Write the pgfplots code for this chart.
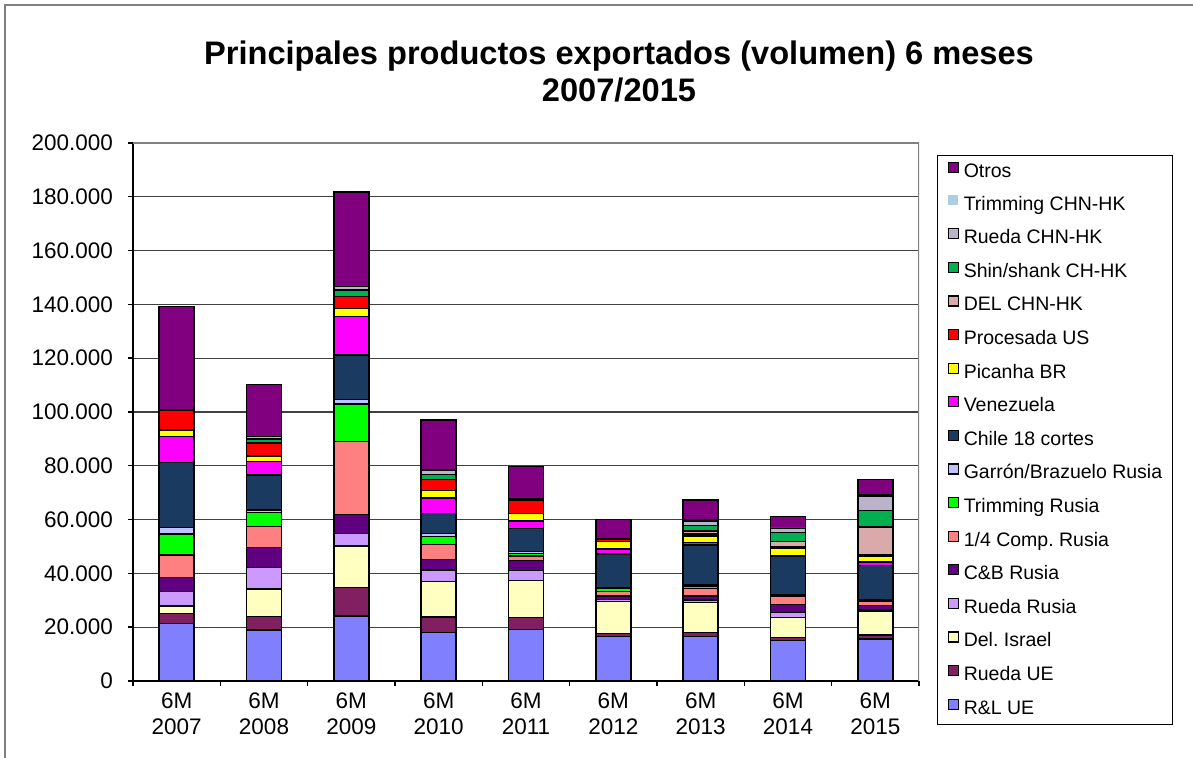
\documentclass[border=0pt]{standalone}
\usepackage{pgfplots}
\pgfplotsset{compat=1.18}
\usepackage{pgfplotstable}
\usepackage{fontspec}
\setmainfont{Liberation Sans}
\frenchspacing

\definecolor{cRLUE}{HTML}{8080FF}
\definecolor{cRuedaUE}{HTML}{802060}
\definecolor{cDelIsrael}{HTML}{FFFFC0}
\definecolor{cRuedaRusia}{HTML}{CC99FF}
\definecolor{cCBRusia}{HTML}{600080}
\definecolor{cCompRusia}{HTML}{FF8080}
\definecolor{cTrimRusia}{HTML}{00FF00}
\definecolor{cGarron}{HTML}{C0C0FF}
\definecolor{cChile}{HTML}{1A3A60}
\definecolor{cVenezuela}{HTML}{FF00FF}
\definecolor{cPicanha}{HTML}{FFFF00}
\definecolor{cProcesada}{HTML}{FF0000}
\definecolor{cDELCHN}{HTML}{DAAAAA}
\definecolor{cShin}{HTML}{00B050}
\definecolor{cRuedaCHN}{HTML}{BBB3CC}
\definecolor{cTrimCHN}{HTML}{A8D0E0}
\definecolor{cOtros}{HTML}{800080}

% toneladas por semestre, una fila por año (6M 2007 ... 6M 2015)
\pgfplotstableread{
idx RLUE  RuedaUE DelIsrael RuedaRusia CBRusia CompRusia TrimRusia Garron Chile Venezuela Picanha Procesada DELCHN Shin RuedaCHN TrimCHN Otros
0   21400 3800    2700      5300       5200    8400      7800      2400   24200 9600      2500    7400      0      0    0        0       38500
1   19000 4900    10300     7900       7500    7800      5200      1000   13000 4900      2100    4800      0      1600 1000     0       19200
2   24200 10500   15500     4700       7100    27000     13900     1800   16500 14200     3100    4400      0      2400 1300     0       35200
3   18000 5800    13100     4400       3800    5600      3100      1100   7300  5900      2800    4100      0      1700 1800     0       18500
4   19200 4300    13900     3700       3800    1600      800       900    8600  2700      2800    5000      0      0    400      0       12000
5   16500 1200    11800     900        1200    1700      1000      500    12400 1900      2700    1000      0      0    0        0       7300
6   16500 1500    11100     1000       1500    2800      800       500    14900 800       2500    700       1200   2000 1700     300     7500
7   15000 1200    7500      1700       3100    2900      300       300    14200 500       2600    500       2000   3500 1500     200     4200
8   15600 1500    8900      500        1500    1500      300       300    12900 1200      2300    300       10400  6100 5500     300     5700
}\datos

\begin{document}
\begin{tikzpicture}
\useasboundingbox (0,0) rectangle (596.5pt,379pt);
\draw[gray, line width=0.6pt] (2.5pt,0) -- (2.5pt,376.5pt) -- (596.5pt,376.5pt);
\node[anchor=base, font=\fontsize{16.3}{18.5}\selectfont\bfseries] at (309.5pt,346.5pt)
  {Principales productos exportados (volumen) 6 meses};
\node[anchor=base, font=\fontsize{16.3}{18.5}\selectfont\bfseries] at (309.5pt,328pt) {2007/2015};
\begin{axis}[
    at={(66.5pt,38.5pt)}, anchor=south west,
    scale only axis, width=393pt, height=269pt,
    ybar stacked, bar width=17.5pt,
    xmin=-0.5, xmax=8.5, ymin=0, ymax=200000,
    xtick={0,...,8},
    xticklabels={{6M\\2007},{6M\\2008},{6M\\2009},{6M\\2010},{6M\\2011},{6M\\2012},{6M\\2013},{6M\\2014},{6M\\2015}},
    xticklabel style={align=center, font=\fontsize{11.25}{13}\selectfont},
    major x tick style={draw=none},
    minor xtick={-0.5,0.5,...,8.5},
    ytick={0,20000,...,200000},
    scaled y ticks=false,
    yticklabel style={font=\fontsize{11.25}{13}\selectfont, xshift=-4pt,
      /pgf/number format/.cd, fixed, 1000 sep={.}, assume math mode=true},
    tick align=outside, major tick length=2.5pt, minor tick length=2.5pt,
    tick style={black, line width=0.7pt},
    ymajorgrids, grid style={black!75, line width=0.6pt},
    axis x line*=bottom, axis y line*=left,
    axis line style={-, black, line width=0.9pt},
    every axis plot/.append style={draw=black, line width=0.7pt},
    reverse legend,
    legend image code/.code={\draw[#1, line width=0.6pt] (0pt,0pt) rectangle (5pt,5pt);},
    legend style={at={(1.0229,0.9777)}, anchor=north west, draw=black, line width=0.6pt,
      font=\fontsize{9.75}{11}\selectfont, inner xsep=5pt, inner ysep=3pt,
      row sep=7.0pt, column sep=2.5pt,
      nodes={inner sep=0pt, text height=7pt, text depth=2pt}},
    legend cell align=left,
]
\addplot[fill=cRLUE] table[x=idx, y=RLUE] {\datos};
\addlegendentry{R\&L UE}
\addplot[fill=cRuedaUE] table[x=idx, y=RuedaUE] {\datos};
\addlegendentry{Rueda UE}
\addplot[fill=cDelIsrael] table[x=idx, y=DelIsrael] {\datos};
\addlegendentry{Del. Israel}
\addplot[fill=cRuedaRusia] table[x=idx, y=RuedaRusia] {\datos};
\addlegendentry{Rueda Rusia}
\addplot[fill=cCBRusia] table[x=idx, y=CBRusia] {\datos};
\addlegendentry{C\&B Rusia}
\addplot[fill=cCompRusia] table[x=idx, y=CompRusia] {\datos};
\addlegendentry{1/4 Comp. Rusia}
\addplot[fill=cTrimRusia] table[x=idx, y=TrimRusia] {\datos};
\addlegendentry{Trimming Rusia}
\addplot[fill=cGarron] table[x=idx, y=Garron] {\datos};
\addlegendentry{Garrón/Brazuelo Rusia}
\addplot[fill=cChile] table[x=idx, y=Chile] {\datos};
\addlegendentry{Chile 18 cortes}
\addplot[fill=cVenezuela] table[x=idx, y=Venezuela] {\datos};
\addlegendentry{Venezuela}
\addplot[fill=cPicanha] table[x=idx, y=Picanha] {\datos};
\addlegendentry{Picanha BR}
\addplot[fill=cProcesada] table[x=idx, y=Procesada] {\datos};
\addlegendentry{Procesada US}
\addplot[fill=cDELCHN] table[x=idx, y=DELCHN] {\datos};
\addlegendentry{DEL CHN-HK}
\addplot[fill=cShin] table[x=idx, y=Shin] {\datos};
\addlegendentry{Shin/shank CH-HK}
\addplot[fill=cRuedaCHN] table[x=idx, y=RuedaCHN] {\datos};
\addlegendentry{Rueda CHN-HK}
\addplot[fill=cTrimCHN, draw=none,
  legend image code/.code={\fill[cTrimCHN] (0pt,0pt) rectangle (5pt,5pt);}]
  table[x=idx, y=TrimCHN] {\datos};
\addlegendentry{Trimming CHN-HK}
\addplot[fill=cOtros] table[x=idx, y=Otros] {\datos};
\addlegendentry{Otros}
\draw[gray, line width=0.6pt] (rel axis cs:0,1) -- (rel axis cs:1,1) -- (rel axis cs:1,0);
\end{axis}
\end{tikzpicture}
\end{document}
